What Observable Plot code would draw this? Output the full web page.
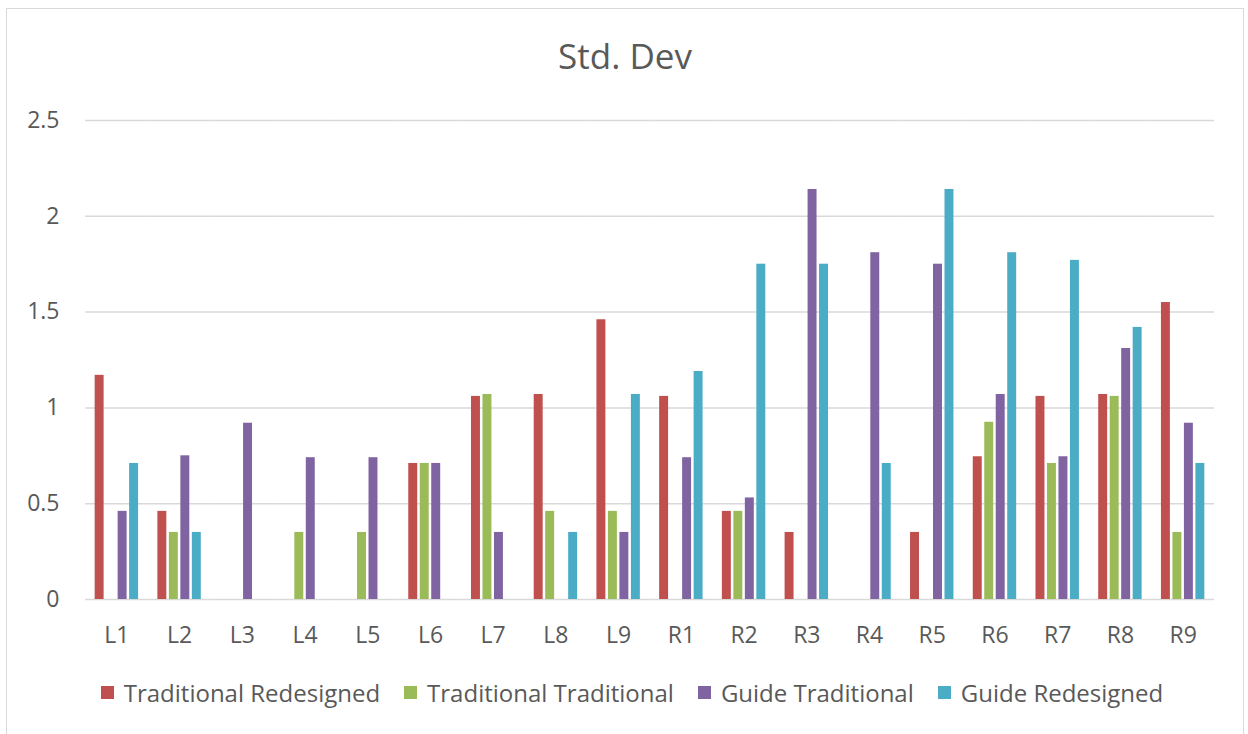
<!DOCTYPE html>
<html>
<head>
<meta charset="utf-8">
<script src="https://cdn.jsdelivr.net/npm/d3@7"></script>
<script src="https://cdn.jsdelivr.net/npm/@observablehq/plot@0.6"></script>
<style>
  html, body { margin: 0; padding: 0; background: #fff; }
  body { width: 1248px; height: 734px; position: relative; overflow: hidden; font-family: "Open Sans", Lato, sans-serif; }
  #frame { position: absolute; left: 6px; top: 8px; width: 1238px; height: 730px; border: 1px solid #d9d9d9; box-sizing: border-box; }
  #title { position: absolute; left: 0; width: 1250px; top: 32px; text-align: center; font-size: 35px; line-height: normal; color: #595959; }
  #chart { position: absolute; left: 0; top: 0; }
  #legend { position: absolute; left: 0; width: 1264px; top: 676px; display: flex; justify-content: center; gap: 24px; font-size: 24px; line-height: normal; color: #595959; }
  #legend .item { display: flex; align-items: center; gap: 10px; }
  #legend .sw { width: 13px; height: 13px; display: inline-block; }
</style>
</head>
<body>
<div id="frame"></div>
<div id="title">Std. Dev</div>
<div id="chart"></div>
<div id="legend"></div>
<script>
const categories = ["L1","L2","L3","L4","L5","L6","L7","L8","L9","R1","R2","R3","R4","R5","R6","R7","R8","R9"];
const seriesNames = ["Traditional Redesigned","Traditional Traditional","Guide Traditional","Guide Redesigned"];
const seriesColors = ["#c0504d","#9bbb59","#8064a2","#4bacc6"];
const tradRedesigned = [1.17,0.46,0,0,0,0.71,1.06,1.07,1.46,1.06,0.46,0.35,0,0.35,0.745,1.06,1.07,1.55];
const tradTraditional = [0,0.35,0,0.35,0.35,0.71,1.07,0.46,0.46,0,0.46,0,0,0,0.925,0.71,1.06,0.35];
const guideTraditional = [0.46,0.75,0.92,0.74,0.74,0.71,0.35,0,0.35,0.74,0.53,2.14,1.81,1.75,1.07,0.745,1.31,0.92];
const guideRedesigned = [0.71,0.35,0,0,0,0,0,0.35,1.07,1.19,1.75,1.75,0.71,2.14,1.81,1.77,1.42,0.71];
const yTicks = [0,0.5,1,1.5,2,2.5];

const seriesValues = [tradRedesigned, tradTraditional, guideTraditional, guideRedesigned];
const rows = [];
categories.forEach((c, i) => {
  seriesNames.forEach((s, j) => {
    const v = seriesValues[j][i];
    if (v > 0) rows.push({cat: c, series: s, value: v});
  });
});

const chart = Plot.plot({
  width: 1248,
  height: 660,
  marginTop: 120,
  marginBottom: 61,
  marginLeft: 85,
  marginRight: 34,
  style: {fontFamily: "'Open Sans', Lato, sans-serif", fontSize: "23px", color: "#595959", background: "transparent"},
  fx: {domain: categories, padding: 0, round: false, label: null, axis: "bottom", tickSize: 0, tickPadding: 27},
  x: {domain: seriesNames, paddingInner: 0.22, paddingOuter: 0.84, round: false, axis: null},
  y: {domain: [0, 2.5], ticks: yTicks, tickFormat: d => String(d), tickSize: 0, tickPadding: 26, label: null},
  color: {domain: seriesNames, range: seriesColors},
  marks: [
    Plot.ruleY(yTicks, {stroke: "#d9d9d9", strokeWidth: 1.5}),
    Plot.barY(rows, {fx: "cat", x: "series", y: "value", fill: "series"})
  ]
});
document.getElementById("chart").appendChild(chart);

const legend = document.getElementById("legend");
seriesNames.forEach((s, j) => {
  const it = document.createElement("div");
  it.className = "item";
  const sw = document.createElement("span");
  sw.className = "sw";
  sw.style.background = seriesColors[j];
  const tx = document.createElement("span");
  tx.textContent = s;
  it.appendChild(sw); it.appendChild(tx);
  legend.appendChild(it);
});
</script>
</body>
</html>
